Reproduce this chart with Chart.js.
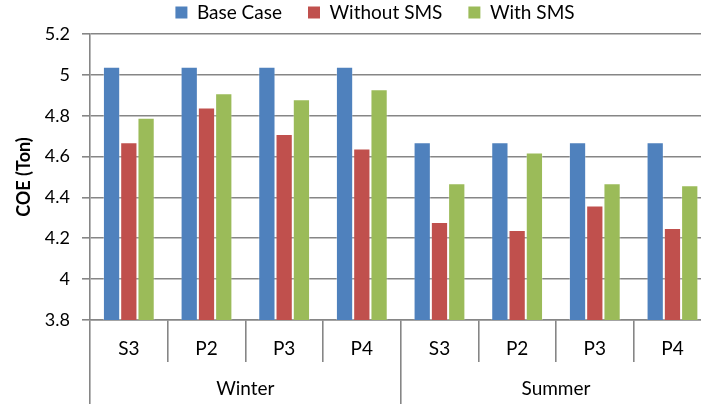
<!DOCTYPE html>
<html>
<head>
<meta charset="utf-8">
<script src="https://cdn.jsdelivr.net/npm/chart.js@4.4.1/dist/chart.umd.min.js"></script>
<style>
  html, body { margin: 0; padding: 0; background: #ffffff; overflow: hidden; }
  #wrap { width: 701px; height: 404px; overflow: hidden; position: relative; }
  canvas { display: block; }
</style>
</head>
<body>
<div id="wrap"><canvas id="chart" width="750" height="404"></canvas></div>
<script>
// Cost of energy per scenario, grouped by season
const categories = ['S3', 'P2', 'P3', 'P4', 'S3', 'P2', 'P3', 'P4'];
const seasons = ['Winter', 'Summer'];
const baseCase   = [5.04, 5.04, 5.04, 5.04, 4.67, 4.67, 4.67, 4.67];
const withoutSMS = [4.67, 4.84, 4.71, 4.64, 4.28, 4.24, 4.36, 4.25];
const withSMS    = [4.79, 4.91, 4.88, 4.93, 4.47, 4.62, 4.47, 4.46];
const yTickValues = [3.8, 4, 4.2, 4.4, 4.6, 4.8, 5, 5.2];
const seriesNames = ['Base Case', 'Without SMS', 'With SMS'];

const FONT = 'Lato, "Open Sans", sans-serif';
const GRID = '#868686';
const LINE_W = 1.6;
const EDGE = 'rgba(255,255,255,0.3)';

Chart.defaults.font.family = FONT;
Chart.defaults.color = '#000000';

new Chart(document.getElementById('chart'), {
  type: 'bar',
  data: {
    labels: categories,
    datasets: [
      { label: seriesNames[0], data: baseCase,   backgroundColor: '#4F81BD', borderColor: EDGE, borderWidth: 1, xAxisID: 'x', yAxisID: 'y' },
      { label: seriesNames[1], data: withoutSMS, backgroundColor: '#C0504D', borderColor: EDGE, borderWidth: 1, xAxisID: 'x', yAxisID: 'y' },
      { label: seriesNames[2], data: withSMS,    backgroundColor: '#9BBB59', borderColor: EDGE, borderWidth: 1, xAxisID: 'x', yAxisID: 'y' }
    ]
  },
  options: {
    responsive: false,
    animation: false,
    devicePixelRatio: 1,
    layout: { padding: { top: -23, left: 0, right: 0, bottom: 0 } },
    datasets: { bar: { categoryPercentage: 0.667, barPercentage: 1.0 } },
    plugins: {
      tooltip: { enabled: false },
      legend: {
        position: 'top',
        labels: {
          font: { size: 19 },
          color: '#000000',
          boxWidth: 12,
          boxHeight: 12,
          padding: 26,
          generateLabels(chart) {
            const items = Chart.defaults.plugins.legend.labels.generateLabels(chart);
            items.forEach(it => { it.lineWidth = 0; });
            return items;
          }
        }
      }
    },
    scales: {
      y: {
        type: 'linear',
        position: 'left',
        min: 3.8,
        max: 5.2,
        afterBuildTicks(scale) { scale.ticks = yTickValues.map(v => ({ value: v })); },
        afterFit(scale) { scale.width = 90; },
        grid: { color: GRID, lineWidth: LINE_W, tickLength: 8, drawTicks: true },
        border: { display: true, color: GRID, width: LINE_W },
        ticks: {
          font: { size: 18 },
          color: '#000000',
          padding: 12,
          callback: (value) => String(Math.round(value * 10) / 10)
        },
        title: {
          display: true,
          text: 'COE (Ton)',
          font: { size: 18, weight: 'bold' },
          color: '#000000',
          padding: { top: 13, bottom: 0 }
        }
      },
      yRight: {
        type: 'linear',
        position: 'right',
        display: true,
        grid: { display: false },
        border: { display: false },
        ticks: { display: false },
        afterFit(scale) { scale.width = 38.7; }
      },
      xTop: {
        type: 'category',
        position: 'top',
        labels: [''],
        display: true,
        grid: { display: false },
        border: { display: false },
        ticks: { display: false },
        afterFit(scale) { scale.height = 2; }
      },
      x: {
        type: 'category',
        position: 'bottom',
        weight: 0,
        offset: true,
        grid: { offset: true, drawOnChartArea: false, drawTicks: true, tickLength: 42, color: GRID, lineWidth: LINE_W },
        border: { display: true, color: GRID, width: LINE_W },
        ticks: { font: { size: 19 }, color: '#000000', padding: -25, maxRotation: 0, autoSkip: false },
        afterFit(scale) { scale.height = 42; }
      },
      x2: {
        type: 'category',
        position: 'bottom',
        weight: 1,
        labels: seasons,
        offset: true,
        grid: { offset: true, drawOnChartArea: false, drawTicks: true, tickLength: 42, color: GRID, lineWidth: LINE_W },
        border: { display: false },
        ticks: { font: { size: 19 }, color: '#000000', padding: -27, maxRotation: 0, autoSkip: false },
        afterFit(scale) { scale.height = 42; }
      }
    }
  }
});
</script>
</body>
</html>
